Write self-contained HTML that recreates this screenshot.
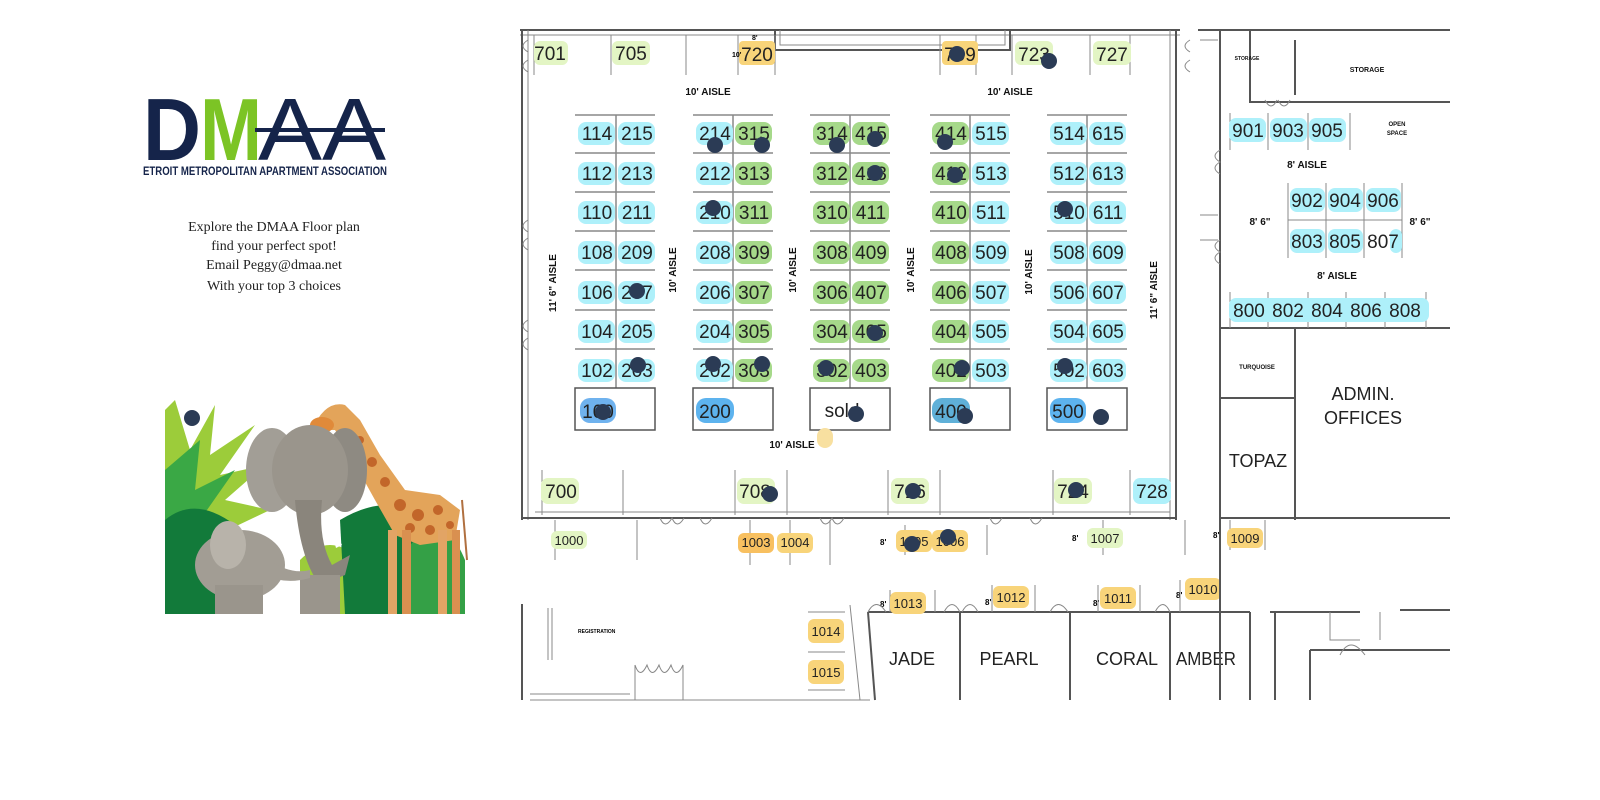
<!DOCTYPE html>
<html><head><meta charset="utf-8"><style>
html,body{margin:0;padding:0;background:#fff;width:1600px;height:800px;overflow:hidden}
svg{display:block}
.b{font-family:"Liberation Sans Narrow","Liberation Sans",sans-serif;font-size:19px;fill:#222;text-anchor:middle}
.s{font-family:"Liberation Sans",sans-serif;font-size:13px;fill:#222;text-anchor:middle}
.a{font-family:"Liberation Sans Narrow","Liberation Sans",sans-serif;font-size:10px;font-weight:bold;fill:#111;text-anchor:middle}
.r{font-family:"Liberation Sans",sans-serif;font-size:18px;fill:#222;text-anchor:middle}
.w{stroke:#555;stroke-width:2;fill:none}
.t{stroke:#888;stroke-width:1;fill:none}
.d{fill:#2b3b55}
.p{font-family:"Liberation Serif",serif;font-size:14px;fill:#222;text-anchor:middle}
</style></head><body>
<svg width="1600" height="800" viewBox="0 0 1600 800" xmlns="http://www.w3.org/2000/svg">
<!-- LOGO -->
<text x="143" y="160" font-family="Liberation Sans,sans-serif" font-weight="bold" font-size="88" fill="#15244a" textLength="58" lengthAdjust="spacingAndGlyphs">D</text>
<text x="200" y="160" font-family="Liberation Sans,sans-serif" font-weight="bold" font-size="88" fill="#7cc425" textLength="62" lengthAdjust="spacingAndGlyphs">M</text>
<text x="258" y="160" font-family="Liberation Sans,sans-serif" font-size="88" fill="#15244a" textLength="128" lengthAdjust="spacingAndGlyphs">AA</text>
<rect x="255" y="128" width="130" height="4" fill="#15244a"/>
<text x="143" y="175" font-family="Liberation Sans Narrow,Liberation Sans,sans-serif" font-size="12" font-weight="bold" fill="#15244a" textLength="244" lengthAdjust="spacingAndGlyphs">ETROIT METROPOLITAN APARTMENT ASSOCIATION</text>
<text class="p" x="274" y="231">Explore the DMAA Floor plan</text>
<text class="p" x="274" y="250">find your perfect spot!</text>
<text class="p" x="274" y="269">Email Peggy@dmaa.net</text>
<text class="p" x="274" y="290">With your top 3 choices</text>

<!-- JUNGLE -->
<g>
<path d="M165 410 L175 400 L190 450 L215 405 L210 455 L255 425 L220 475 L265 465 L225 500 L270 510 L165 560 Z" fill="#9ccc3a"/>
<path d="M165 470 L200 440 L195 490 L235 470 L200 520 L165 530 Z" fill="#3aa845"/>
<path d="M165 520 Q195 495 235 525 L245 614 L165 614 Z" fill="#127a3a"/>
<path d="M300 560 Q330 530 360 560 L370 614 L300 614 Z" fill="#9ccc3a"/>
<path d="M340 520 Q390 490 430 520 L440 614 L345 614 Z" fill="#127a3a"/>
<path d="M410 545 Q445 510 465 560 L465 614 L410 614 Z" fill="#34a046"/>
<!-- giraffe -->
<path d="M312 430 Q325 400 345 405 L360 420 L380 455 L405 490 L440 495 L460 510 L455 540 L420 545 L395 535 L375 500 L350 455 L335 430 Z" fill="#e3a45a"/>
<g fill="#c2662a">
<circle cx="360" cy="440" r="4"/><circle cx="372" cy="462" r="5"/><circle cx="385" cy="482" r="5"/><circle cx="400" cy="505" r="6"/><circle cx="418" cy="515" r="6"/><circle cx="438" cy="510" r="5"/><circle cx="430" cy="530" r="5"/><circle cx="410" cy="528" r="5"/><circle cx="450" cy="525" r="4"/>
</g>
<ellipse cx="322" cy="425" rx="12" ry="8" fill="#e08a3a"/>
<rect x="388" y="530" width="9" height="84" fill="#e2a465"/>
<rect x="402" y="530" width="9" height="84" fill="#d99050"/>
<rect x="438" y="530" width="9" height="84" fill="#e2a465"/>
<rect x="452" y="530" width="8" height="84" fill="#d99050"/>
<line x1="462" y1="500" x2="467" y2="560" stroke="#b07040" stroke-width="2"/>
<!-- elephant -->
<ellipse cx="272" cy="470" rx="26" ry="42" fill="#a29e96"/>
<ellipse cx="345" cy="470" rx="22" ry="42" fill="#8e8a82"/>
<ellipse cx="310" cy="470" rx="38" ry="45" fill="#9a958c"/>
<path d="M295 500 Q300 560 320 585 L345 575 L350 555 L332 565 Q318 540 322 500 Z" fill="#8a857c"/>
<path d="M290 520 Q288 545 278 550 L284 518 Z M328 518 L336 548 L342 545 Z" fill="#fff"/>
<rect x="300" y="575" width="40" height="39" fill="#9a958c"/>
<!-- baby -->
<ellipse cx="240" cy="565" rx="45" ry="35" fill="#a29d94"/>
<ellipse cx="228" cy="545" rx="18" ry="24" fill="#b8b3aa"/>
<path d="M270 560 Q290 575 310 570 L310 578 Q285 585 265 575 Z" fill="#a29d94"/>
<rect x="215" y="585" width="48" height="29" fill="#9a958c"/>
<circle cx="192" cy="418" r="8" class="d"/>
</g>

<!-- MAIN HALL WALLS -->
<g class="w">
<path d="M520 30 H1180"/><path d="M520 35 H1180" class="t"/>
<path d="M522 30 V520"/><path d="M528 30 V520" class="t"/>
<path d="M1176 30 V520"/><path d="M1170 30 V520" class="t"/>
<path d="M522 518 H1176"/><path d="M535 512 H1170" class="t"/>
<path d="M775 30 V50 H1010 V30"/><path d="M780 30 V45 H1005 V30" class="t"/>
</g>
<g class="t">
<line x1="534" y1="35" x2="534" y2="75"/><line x1="611" y1="35" x2="611" y2="75"/>
<line x1="686" y1="35" x2="686" y2="75"/><line x1="738" y1="35" x2="738" y2="75"/><line x1="775" y1="35" x2="775" y2="75"/>
<line x1="940" y1="35" x2="940" y2="75"/><line x1="976" y1="35" x2="976" y2="75"/>
<line x1="1012" y1="35" x2="1012" y2="75"/><line x1="1090" y1="35" x2="1090" y2="75"/><line x1="1130" y1="35" x2="1130" y2="75"/>
<path d="M528 60 q-10 6 0 12 M528 40 q-10 6 0 12 M528 220 q-10 6 0 12 M528 238 q-10 6 0 12 M528 320 q-10 6 0 12 M528 338 q-10 6 0 12"/>
</g>
<!-- grid lines -->
<g stroke="#888" stroke-width="1.5">
<line x1="575" y1="115" x2="655" y2="115"/><line x1="693" y1="115" x2="773" y2="115"/><line x1="810" y1="115" x2="890" y2="115"/><line x1="930" y1="115" x2="1010" y2="115"/><line x1="1047" y1="115" x2="1127" y2="115"/>
<line x1="575" y1="153" x2="655" y2="153"/><line x1="693" y1="153" x2="773" y2="153"/><line x1="810" y1="153" x2="890" y2="153"/><line x1="930" y1="153" x2="1010" y2="153"/><line x1="1047" y1="153" x2="1127" y2="153"/>
<line x1="575" y1="192" x2="655" y2="192"/><line x1="693" y1="192" x2="773" y2="192"/><line x1="810" y1="192" x2="890" y2="192"/><line x1="930" y1="192" x2="1010" y2="192"/><line x1="1047" y1="192" x2="1127" y2="192"/>
<line x1="575" y1="231" x2="655" y2="231"/><line x1="693" y1="231" x2="773" y2="231"/><line x1="810" y1="231" x2="890" y2="231"/><line x1="930" y1="231" x2="1010" y2="231"/><line x1="1047" y1="231" x2="1127" y2="231"/>
<line x1="575" y1="270" x2="655" y2="270"/><line x1="693" y1="270" x2="773" y2="270"/><line x1="810" y1="270" x2="890" y2="270"/><line x1="930" y1="270" x2="1010" y2="270"/><line x1="1047" y1="270" x2="1127" y2="270"/>
<line x1="575" y1="310" x2="655" y2="310"/><line x1="693" y1="310" x2="773" y2="310"/><line x1="810" y1="310" x2="890" y2="310"/><line x1="930" y1="310" x2="1010" y2="310"/><line x1="1047" y1="310" x2="1127" y2="310"/>
<line x1="575" y1="349" x2="655" y2="349"/><line x1="693" y1="349" x2="773" y2="349"/><line x1="810" y1="349" x2="890" y2="349"/><line x1="930" y1="349" x2="1010" y2="349"/><line x1="1047" y1="349" x2="1127" y2="349"/>
<line x1="616" y1="115" x2="616" y2="388"/><line x1="733" y1="115" x2="733" y2="388"/><line x1="850" y1="115" x2="850" y2="388"/><line x1="970" y1="115" x2="970" y2="388"/><line x1="1087" y1="115" x2="1087" y2="388"/>
</g>
<g fill="none" stroke="#555" stroke-width="1.5">
<rect x="575" y="388" width="80" height="42"/><rect x="693" y="388" width="80" height="42"/><rect x="810" y="388" width="80" height="42"/><rect x="930" y="388" width="80" height="42"/><rect x="1047" y="388" width="80" height="42"/>
</g>

<!-- aisle labels -->
<text class="a" x="708" y="95">10' AISLE</text>
<text class="a" x="1010" y="95">10' AISLE</text>
<text class="a" x="792" y="448">10' AISLE</text>
<text class="a" transform="translate(556,283) rotate(-90)">11' 6" AISLE</text>
<text class="a" transform="translate(676,270) rotate(-90)">10' AISLE</text>
<text class="a" transform="translate(796,270) rotate(-90)">10' AISLE</text>
<text class="a" transform="translate(914,270) rotate(-90)">10' AISLE</text>
<text class="a" transform="translate(1032,272) rotate(-90)">10' AISLE</text>
<text class="a" transform="translate(1157,290) rotate(-90)">11' 6" AISLE</text>

<!-- booth highlights -->
<g>
<rect x="578" y="122" width="37" height="23" rx="8" fill="#aef0fa"/><rect x="618" y="122" width="37" height="23" rx="8" fill="#aef0fa"/>
<rect x="578" y="162" width="37" height="23" rx="8" fill="#aef0fa"/><rect x="618" y="162" width="37" height="23" rx="8" fill="#aef0fa"/>
<rect x="578" y="201" width="37" height="23" rx="8" fill="#aef0fa"/><rect x="618" y="201" width="37" height="23" rx="8" fill="#aef0fa"/>
<rect x="578" y="241" width="37" height="23" rx="8" fill="#aef0fa"/><rect x="618" y="241" width="37" height="23" rx="8" fill="#aef0fa"/>
<rect x="578" y="281" width="37" height="23" rx="8" fill="#aef0fa"/><rect x="618" y="281" width="37" height="23" rx="8" fill="#aef0fa"/>
<rect x="578" y="320" width="37" height="23" rx="8" fill="#aef0fa"/><rect x="618" y="320" width="37" height="23" rx="8" fill="#aef0fa"/>
<rect x="578" y="359" width="37" height="23" rx="8" fill="#aef0fa"/><rect x="618" y="359" width="37" height="23" rx="8" fill="#aef0fa"/>
<rect x="580" y="398" width="36" height="25" rx="10" fill="#6fb2ee"/>
<rect x="696" y="122" width="37" height="23" rx="8" fill="#aef0fa"/><rect x="735" y="122" width="37" height="23" rx="8" fill="#a6d98a"/>
<rect x="696" y="162" width="37" height="23" rx="8" fill="#aef0fa"/><rect x="735" y="162" width="37" height="23" rx="8" fill="#a6d98a"/>
<rect x="696" y="201" width="37" height="23" rx="8" fill="#aef0fa"/><rect x="735" y="201" width="37" height="23" rx="8" fill="#a6d98a"/>
<rect x="696" y="241" width="37" height="23" rx="8" fill="#aef0fa"/><rect x="735" y="241" width="37" height="23" rx="8" fill="#a6d98a"/>
<rect x="696" y="281" width="37" height="23" rx="8" fill="#aef0fa"/><rect x="735" y="281" width="37" height="23" rx="8" fill="#a6d98a"/>
<rect x="696" y="320" width="37" height="23" rx="8" fill="#aef0fa"/><rect x="735" y="320" width="37" height="23" rx="8" fill="#a6d98a"/>
<rect x="696" y="359" width="37" height="23" rx="8" fill="#aef0fa"/><rect x="735" y="359" width="37" height="23" rx="8" fill="#a6d98a"/>
<rect x="696" y="398" width="38" height="25" rx="10" fill="#5db3ee"/>
<rect x="813" y="122" width="37" height="23" rx="8" fill="#a6d98a"/><rect x="852" y="122" width="37" height="23" rx="8" fill="#a6d98a"/>
<rect x="813" y="162" width="37" height="23" rx="8" fill="#a6d98a"/><rect x="852" y="162" width="37" height="23" rx="8" fill="#a6d98a"/>
<rect x="813" y="201" width="37" height="23" rx="8" fill="#a6d98a"/><rect x="852" y="201" width="37" height="23" rx="8" fill="#a6d98a"/>
<rect x="813" y="241" width="37" height="23" rx="8" fill="#a6d98a"/><rect x="852" y="241" width="37" height="23" rx="8" fill="#a6d98a"/>
<rect x="813" y="281" width="37" height="23" rx="8" fill="#a6d98a"/><rect x="852" y="281" width="37" height="23" rx="8" fill="#a6d98a"/>
<rect x="813" y="320" width="37" height="23" rx="8" fill="#a6d98a"/><rect x="852" y="320" width="37" height="23" rx="8" fill="#a6d98a"/>
<rect x="813" y="359" width="37" height="23" rx="8" fill="#a6d98a"/><rect x="852" y="359" width="37" height="23" rx="8" fill="#a6d98a"/>
<rect x="932" y="122" width="37" height="23" rx="8" fill="#a6d98a"/><rect x="972" y="122" width="37" height="23" rx="8" fill="#aef0fa"/>
<rect x="932" y="162" width="37" height="23" rx="8" fill="#a6d98a"/><rect x="972" y="162" width="37" height="23" rx="8" fill="#aef0fa"/>
<rect x="932" y="201" width="37" height="23" rx="8" fill="#a6d98a"/><rect x="972" y="201" width="37" height="23" rx="8" fill="#aef0fa"/>
<rect x="932" y="241" width="37" height="23" rx="8" fill="#a6d98a"/><rect x="972" y="241" width="37" height="23" rx="8" fill="#aef0fa"/>
<rect x="932" y="281" width="37" height="23" rx="8" fill="#a6d98a"/><rect x="972" y="281" width="37" height="23" rx="8" fill="#aef0fa"/>
<rect x="932" y="320" width="37" height="23" rx="8" fill="#a6d98a"/><rect x="972" y="320" width="37" height="23" rx="8" fill="#aef0fa"/>
<rect x="932" y="359" width="37" height="23" rx="8" fill="#a6d98a"/><rect x="972" y="359" width="37" height="23" rx="8" fill="#aef0fa"/>
<rect x="932" y="398" width="38" height="25" rx="10" fill="#5fb0d8"/>
<rect x="1050" y="122" width="37" height="23" rx="8" fill="#aef0fa"/><rect x="1089" y="122" width="37" height="23" rx="8" fill="#aef0fa"/>
<rect x="1050" y="162" width="37" height="23" rx="8" fill="#aef0fa"/><rect x="1089" y="162" width="37" height="23" rx="8" fill="#aef0fa"/>
<rect x="1050" y="201" width="37" height="23" rx="8" fill="#aef0fa"/><rect x="1089" y="201" width="37" height="23" rx="8" fill="#aef0fa"/>
<rect x="1050" y="241" width="37" height="23" rx="8" fill="#aef0fa"/><rect x="1089" y="241" width="37" height="23" rx="8" fill="#aef0fa"/>
<rect x="1050" y="281" width="37" height="23" rx="8" fill="#aef0fa"/><rect x="1089" y="281" width="37" height="23" rx="8" fill="#aef0fa"/>
<rect x="1050" y="320" width="37" height="23" rx="8" fill="#aef0fa"/><rect x="1089" y="320" width="37" height="23" rx="8" fill="#aef0fa"/>
<rect x="1050" y="359" width="37" height="23" rx="8" fill="#aef0fa"/><rect x="1089" y="359" width="37" height="23" rx="8" fill="#aef0fa"/>
<rect x="1050" y="398" width="36" height="25" rx="10" fill="#5db3ee"/>
<rect x="817" y="428" width="16" height="20" rx="8" fill="#f8e0a0"/>
</g>
<g class="b">
<text x="597" y="140">114</text><text x="637" y="140">215</text>
<text x="597" y="180">112</text><text x="637" y="180">213</text>
<text x="597" y="219">110</text><text x="637" y="219">211</text>
<text x="597" y="259">108</text><text x="637" y="259">209</text>
<text x="597" y="299">106</text><text x="637" y="299">207</text>
<text x="597" y="338">104</text><text x="637" y="338">205</text>
<text x="597" y="377">102</text><text x="637" y="377">203</text>
<text x="598" y="418">100</text>
<text x="715" y="140">214</text><text x="754" y="140">315</text>
<text x="715" y="180">212</text><text x="754" y="180">313</text>
<text x="715" y="219">210</text><text x="754" y="219">311</text>
<text x="715" y="259">208</text><text x="754" y="259">309</text>
<text x="715" y="299">206</text><text x="754" y="299">307</text>
<text x="715" y="338">204</text><text x="754" y="338">305</text>
<text x="715" y="377">202</text><text x="754" y="377">303</text>
<text x="715" y="418">200</text>
<text x="832" y="140">314</text><text x="871" y="140">415</text>
<text x="832" y="180">312</text><text x="871" y="180">413</text>
<text x="832" y="219">310</text><text x="871" y="219">411</text>
<text x="832" y="259">308</text><text x="871" y="259">409</text>
<text x="832" y="299">306</text><text x="871" y="299">407</text>
<text x="832" y="338">304</text><text x="871" y="338">405</text>
<text x="832" y="377">302</text><text x="871" y="377">403</text>
<text x="842" y="417">sold</text>
<text x="951" y="140">414</text><text x="991" y="140">515</text>
<text x="951" y="180">412</text><text x="991" y="180">513</text>
<text x="951" y="219">410</text><text x="991" y="219">511</text>
<text x="951" y="259">408</text><text x="991" y="259">509</text>
<text x="951" y="299">406</text><text x="991" y="299">507</text>
<text x="951" y="338">404</text><text x="991" y="338">505</text>
<text x="951" y="377">402</text><text x="991" y="377">503</text>
<text x="951" y="418">400</text>
<text x="1069" y="140">514</text><text x="1108" y="140">615</text>
<text x="1069" y="180">512</text><text x="1108" y="180">613</text>
<text x="1069" y="219">510</text><text x="1108" y="219">611</text>
<text x="1069" y="259">508</text><text x="1108" y="259">609</text>
<text x="1069" y="299">506</text><text x="1108" y="299">607</text>
<text x="1069" y="338">504</text><text x="1108" y="338">605</text>
<text x="1069" y="377">502</text><text x="1108" y="377">603</text>
<text x="1068" y="418">500</text>
</g>

<!-- top 700s -->
<rect x="534" y="41" width="34" height="24" rx="6" fill="#e3f5c4"/>
<rect x="612" y="41" width="38" height="24" rx="6" fill="#e3f5c4"/>
<rect x="739" y="41" width="36" height="24" rx="4" fill="#f8d47a"/>
<rect x="942" y="41" width="36" height="24" rx="4" fill="#f8d47a"/>
<rect x="1015" y="41" width="38" height="24" rx="6" fill="#e3f5c4"/>
<rect x="1093" y="41" width="38" height="24" rx="6" fill="#e3f5c4"/>
<g class="b">
<text x="550" y="60">701</text><text x="631" y="60">705</text><text x="757" y="61">720</text>
<text x="960" y="61">709</text><text x="1034" y="61">723</text><text x="1112" y="61">727</text>
</g>
<text x="732" y="57" font-size="7" font-family="Liberation Sans,sans-serif" font-weight="bold">10'</text>
<text x="752" y="40" font-size="7" font-family="Liberation Sans,sans-serif" font-weight="bold">8'</text>

<!-- bottom 700s -->
<g class="t">
<line x1="542" y1="470" x2="542" y2="515"/><line x1="623" y1="470" x2="623" y2="515"/>
<line x1="735" y1="470" x2="735" y2="515"/><line x1="787" y1="470" x2="787" y2="515"/>
<line x1="888" y1="470" x2="888" y2="515"/><line x1="940" y1="470" x2="940" y2="515"/>
<line x1="1053" y1="470" x2="1053" y2="515"/><line x1="1130" y1="470" x2="1130" y2="515"/>
<path d="M660 518 q5 12 12 0 q5 12 12 0 M700 518 q5 12 12 0 M820 518 q5 12 12 0 q5 12 12 0 M990 518 q5 12 12 0 M1030 518 q5 12 12 0"/>
</g>
<rect x="541" y="478" width="38" height="26" rx="7" fill="#e3f5c4"/>
<rect x="737" y="478" width="38" height="26" rx="7" fill="#e3f5c4"/>
<rect x="891" y="478" width="38" height="26" rx="7" fill="#e3f5c4"/>
<rect x="1054" y="478" width="38" height="26" rx="7" fill="#e3f5c4"/>
<rect x="1133" y="478" width="38" height="26" rx="7" fill="#aef0fa"/>
<g class="b">
<text x="561" y="498">700</text><text x="755" y="498">708</text><text x="910" y="498">716</text>
<text x="1073" y="498">724</text><text x="1152" y="498">728</text>
</g>

<!-- below hall -->
<g class="t">
<line x1="555" y1="520" x2="555" y2="560"/><line x1="637" y1="520" x2="637" y2="560"/>
<line x1="750" y1="520" x2="750" y2="565"/><line x1="790" y1="520" x2="790" y2="565"/><line x1="830" y1="520" x2="830" y2="565"/>
<line x1="905" y1="525" x2="905" y2="555"/><line x1="987" y1="525" x2="987" y2="555"/>
<line x1="1103" y1="520" x2="1103" y2="555"/><line x1="1185" y1="520" x2="1185" y2="555"/>
<line x1="1230" y1="520" x2="1230" y2="550"/><line x1="1265" y1="520" x2="1265" y2="550"/>
</g>
<rect x="551" y="531" width="36" height="18" rx="6" fill="#e3f5c4"/>
<rect x="738" y="533" width="36" height="20" rx="6" fill="#f8c060"/>
<rect x="777" y="533" width="36" height="20" rx="6" fill="#f8d47a"/>
<rect x="896" y="530" width="36" height="22" rx="6" fill="#f8d47a"/>
<rect x="932" y="530" width="36" height="22" rx="6" fill="#f8d47a"/>
<rect x="1087" y="528" width="36" height="20" rx="6" fill="#e3f5c4"/>
<rect x="1227" y="528" width="36" height="20" rx="6" fill="#f8d47a"/>
<g class="s">
<text x="569" y="545">1000</text><text x="756" y="547">1003</text><text x="795" y="547">1004</text>
<text x="914" y="546">1005</text><text x="950" y="546">1006</text>
<text x="1105" y="543">1007</text><text x="1245" y="543">1009</text>
</g>
<g font-family="Liberation Sans,sans-serif" font-size="8" font-weight="bold">
<text x="880" y="545">8'</text><text x="1072" y="541">8'</text><text x="1213" y="538">8'</text>
<text x="880" y="607">8'</text><text x="985" y="605">8'</text><text x="1093" y="606">8'</text><text x="1176" y="598">8'</text>
</g>

<!-- lower rooms -->
<g class="w">
<path d="M868 612 H1250"/><path d="M868 612 L875 700" />
<line x1="960" y1="612" x2="960" y2="700"/><line x1="1070" y1="612" x2="1070" y2="700"/>
<line x1="1170" y1="612" x2="1170" y2="700"/><line x1="1250" y1="612" x2="1250" y2="700"/>
<path d="M522 604 V700"/>
<path d="M1270 612 H1360 M1275 612 V700 M1310 650 H1450 M1310 650 V700 M1400 610 H1450"/>
</g>
<g class="t">
<path d="M850 605 L860 700"/>
<path d="M808 612 H845 M808 652 H845 M808 690 H845"/>
<path d="M530 700 H870 M530 694 H630"/>
<path d="M635 665 V700 M635 665 q5 15 12 0 q5 15 12 0 q5 15 12 0 q5 15 12 0 V700"/>
<path d="M548 608 V660 M552 608 V660"/>
<path d="M890 590 V612 M935 590 V612 M992 585 V612 M1035 585 V612 M1098 585 V612 M1140 585 V612 M1180 580 V612 M1220 580 V612"/>
<path d="M868 612 q8 -15 18 0 M944 612 q8 -15 16 0 M962 612 q8 -15 16 0 M1050 612 q8 -15 18 0 M1155 612 q8 -15 15 0"/>
<path d="M1330 612 V640 H1360 M1380 612 V640 M1340 655 q10 -20 25 0"/>
</g>
<text x="578" y="633" font-family="Liberation Sans,sans-serif" font-size="5" font-weight="bold">REGISTRATION</text>
<rect x="808" y="619" width="36" height="24" rx="6" fill="#f8d47a"/>
<rect x="808" y="660" width="36" height="24" rx="6" fill="#f8d47a"/>
<rect x="890" y="592" width="36" height="22" rx="6" fill="#f8d47a"/>
<rect x="993" y="586" width="36" height="22" rx="6" fill="#f8d47a"/>
<rect x="1100" y="587" width="36" height="22" rx="6" fill="#f8d47a"/>
<rect x="1185" y="578" width="36" height="22" rx="6" fill="#f8d47a"/>
<g class="s">
<text x="826" y="636">1014</text><text x="826" y="677">1015</text>
<text x="908" y="608">1013</text><text x="1011" y="602">1012</text><text x="1118" y="603">1011</text><text x="1203" y="594">1010</text>
</g>
<g class="r">
<text x="912" y="665">JADE</text><text x="1009" y="665">PEARL</text><text x="1127" y="665">CORAL</text><text x="1206" y="665" textLength="60" lengthAdjust="spacingAndGlyphs">AMBER</text>
</g>

<!-- right wing -->
<g class="w">
<path d="M1198 30 H1450"/><path d="M1220 30 V700"/><path d="M1250 30 V102 H1450"/>
<path d="M1295 40 V95"/>
<path d="M1220 328 H1450"/><path d="M1295 328 V520"/><path d="M1220 398 H1295"/>
<path d="M1220 518 H1450"/>
</g>
<g class="t">
<path d="M1200 40 H1218 M1200 215 H1218 M1200 240 H1218"/>
<line x1="1230" y1="113" x2="1230" y2="150"/><line x1="1268" y1="113" x2="1268" y2="150"/><line x1="1308" y1="113" x2="1308" y2="150"/><line x1="1350" y1="113" x2="1350" y2="150"/>
<line x1="1288" y1="183" x2="1288" y2="258"/><line x1="1326" y1="183" x2="1326" y2="258"/><line x1="1364" y1="183" x2="1364" y2="258"/><line x1="1402" y1="183" x2="1402" y2="258"/>
<line x1="1288" y1="220" x2="1402" y2="220"/>
<line x1="1230" y1="292" x2="1230" y2="328"/><line x1="1268" y1="292" x2="1268" y2="328"/><line x1="1308" y1="292" x2="1308" y2="328"/><line x1="1346" y1="292" x2="1346" y2="328"/><line x1="1385" y1="292" x2="1385" y2="328"/><line x1="1426" y1="292" x2="1426" y2="328"/>
<path d="M1220 150 q-10 6 0 12 q-10 6 0 12 M1220 240 q-10 6 0 12 q-10 6 0 12 M1190 40 q-10 6 0 12 M1190 60 q-10 6 0 12 M1265 100 q6 12 12 0 M1290 100 q-6 12 -12 0"/>
</g>
<rect x="1229" y="118" width="37" height="24" rx="7" fill="#aef0fa"/>
<rect x="1270" y="118" width="37" height="24" rx="7" fill="#aef0fa"/>
<rect x="1309" y="118" width="37" height="24" rx="7" fill="#aef0fa"/>
<rect x="1290" y="188" width="35" height="24" rx="7" fill="#aef0fa"/>
<rect x="1328" y="188" width="35" height="24" rx="7" fill="#aef0fa"/>
<rect x="1366" y="188" width="35" height="24" rx="7" fill="#aef0fa"/>
<rect x="1290" y="229" width="35" height="24" rx="7" fill="#aef0fa"/>
<rect x="1328" y="229" width="35" height="24" rx="7" fill="#aef0fa"/>
<rect x="1390" y="229" width="12" height="24" rx="6" fill="#aef0fa"/>
<rect x="1229" y="298" width="200" height="24" rx="7" fill="#aef0fa"/>
<g class="b">
<text x="1248" y="137">901</text><text x="1288" y="137">903</text><text x="1327" y="137">905</text>
<text x="1307" y="207">902</text><text x="1345" y="207">904</text><text x="1383" y="207">906</text>
<text x="1307" y="248">803</text><text x="1345" y="248">805</text><text x="1383" y="248">807</text>
<text x="1249" y="317">800</text><text x="1288" y="317">802</text><text x="1327" y="317">804</text><text x="1366" y="317">806</text><text x="1405" y="317">808</text>
</g>
<g class="a" font-size="7">
<text x="1247" y="60" font-size="5">STORAGE</text>
<text x="1367" y="72" font-size="7">STORAGE</text>
<text x="1397" y="126" font-size="6">OPEN</text><text x="1397" y="135" font-size="6">SPACE</text>
<text x="1257" y="369" font-size="6">TURQUOISE</text>
</g>
<text class="a" x="1307" y="168">8' AISLE</text>
<text class="a" x="1337" y="279">8' AISLE</text>
<text class="a" x="1260" y="225" font-size="8">8' 6"</text>
<text class="a" x="1420" y="225" font-size="8">8' 6"</text>
<text class="r" x="1363" y="400" font-size="20">ADMIN.</text>
<text class="r" x="1363" y="424" font-size="20">OFFICES</text>
<text class="r" x="1258" y="467" font-size="20">TOPAZ</text>

<!-- dots -->
<g class="d">
<circle cx="715" cy="145" r="8"/><circle cx="762" cy="145" r="8"/><circle cx="837" cy="145" r="8"/><circle cx="875" cy="139" r="8"/><circle cx="945" cy="142" r="8"/>
<circle cx="875" cy="173" r="8"/><circle cx="955" cy="175" r="8"/>
<circle cx="713" cy="208" r="8"/><circle cx="1065" cy="209" r="8"/>
<circle cx="637" cy="291" r="8"/><circle cx="875" cy="333" r="8"/>
<circle cx="638" cy="365" r="8"/><circle cx="713" cy="364" r="8"/><circle cx="762" cy="364" r="8"/><circle cx="826" cy="368" r="8"/><circle cx="962" cy="368" r="8"/><circle cx="1065" cy="366" r="8"/>
<circle cx="603" cy="412" r="8"/><circle cx="856" cy="414" r="8"/><circle cx="965" cy="416" r="8"/><circle cx="1101" cy="417" r="8"/>
<circle cx="957" cy="54" r="8"/><circle cx="1049" cy="61" r="8"/>
<circle cx="770" cy="494" r="8"/><circle cx="913" cy="491" r="8"/><circle cx="1076" cy="490" r="8"/>
<circle cx="912" cy="544" r="8"/><circle cx="948" cy="537" r="8"/>
</g>
</svg>
</body></html>
